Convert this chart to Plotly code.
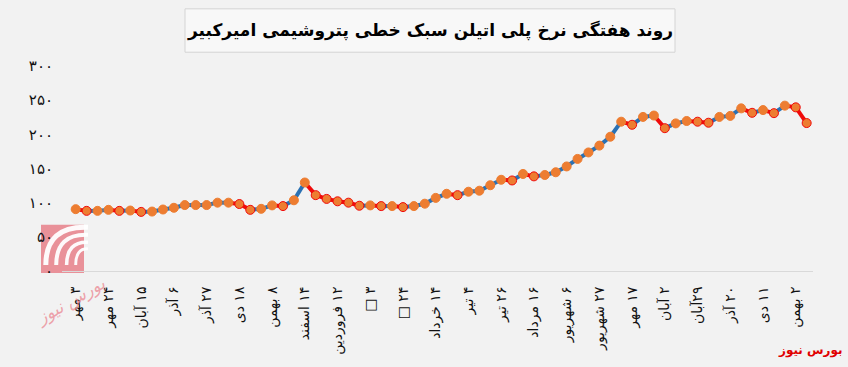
import plotly.graph_objects as go

# ---------------- data ----------------
title_text = "روند هفتگی نرخ پلی اتیلن سبک خطی پتروشیمی امیرکبیر"
source_text = "بورس نیوز"

tick_labels = ["۳ مهر", "۲۴ مهر", "۱۵ آبان", "۶ آذر", "۲۷ آذر", "۱۸ دی", "۸ بهمن",
               "۱۴ اسفند", "۱۲ فروردین", "۳ □", "۲۴ □", "۱۴ خرداد", "۴ تیر", "۲۶ تیر",
               "۱۶ مرداد", "۶ شهریور", "۲۷ شهریور", "۱۷ مهر", "۲ آبان", "۲۹آبان",
               "۲۰ آذر", "۱۱ دی", "۲ بهمن"]
label_every = 3

prices = [90.5, 88, 88, 89.5, 88, 88.5, 86.5, 87, 90, 92.5, 96.5, 96.5, 96.5,
          100, 100, 98, 89.5, 91, 96, 95, 103.5, 129.5, 111, 105.5, 102, 100,
          95.5, 96, 95, 95, 93.5, 95, 98.5, 107, 113, 111, 116, 117.5, 125.5,
          133.5, 132.5, 142, 138.5, 140.5, 144.5, 153, 164, 173.5, 183.5, 196.5,
          218.5, 214, 225.5, 227.5, 209, 216, 219.5, 218.5, 217, 225.5, 227, 238,
          231.5, 235.5, 231, 242, 239.5, 216.5]

y_tick_values = [0, 50, 100, 150, 200, 250, 300]
y_tick_labels = ["۰", "۵۰", "۱۰۰", "۱۵۰", "۲۰۰", "۲۵۰", "۳۰۰"]

# ---------------- styling ----------------
W, H = 848, 367
ML, MR, MT, MB = 62, 35, 66, 93
PW, PH = W - ML - MR, H - MT - MB
BLUE, RED, ORANGE = "#2b71b3", "#f00a0a", "#ed7d31"
FONT = "DejaVu Sans"


def px(x):
    return (x - ML) / PW


def py(y):
    return (H - MB - y) / PH


n = len(prices)
xs = list(range(n))

up_x, up_y, dn_x, dn_y = [], [], [], []
for i in range(n - 1):
    if prices[i + 1] >= prices[i]:
        up_x += [xs[i], xs[i + 1], None]
        up_y += [prices[i], prices[i + 1], None]
    else:
        dn_x += [xs[i], xs[i + 1], None]
        dn_y += [prices[i], prices[i + 1], None]

edge_colors = [ORANGE] + [RED if prices[i] < prices[i - 1] else ORANGE for i in range(1, n)]

fig = go.Figure()
fig.add_trace(go.Scatter(x=up_x, y=up_y, mode="lines", line=dict(color=BLUE, width=4),
                         hoverinfo="skip", showlegend=False))
fig.add_trace(go.Scatter(x=dn_x, y=dn_y, mode="lines", line=dict(color=RED, width=4),
                         hoverinfo="skip", showlegend=False))
fig.add_trace(go.Scatter(x=xs, y=prices, mode="markers",
                         marker=dict(color=ORANGE, size=9,
                                     line=dict(color=edge_colors, width=1)),
                         showlegend=False))

tickvals = [i * label_every for i in range(len(tick_labels))]
ticktext = ["\u202b" + t + "\u200f\u202c" for t in tick_labels]

x0 = -(75.7 - ML) / 10.91
fig.update_xaxes(range=[x0, x0 + PW / 10.91], tickmode="array", tickvals=tickvals,
                 ticktext=ticktext, tickangle=-90, showgrid=False, zeroline=False,
                 showline=True, linecolor="#d9d9d9", linewidth=1, ticks="",
                 ticklabelstandoff=9,
                 tickfont=dict(family=FONT, size=14, color="#111111"))
fig.update_yaxes(range=[0, 300], tickmode="array", tickvals=y_tick_values,
                 ticktext=y_tick_labels, showgrid=False, zeroline=False,
                 showline=False, ticks="", ticklabelstandoff=8,
                 tickfont=dict(family=FONT, size=15, color="#111111"))

shapes = [
    # title box
    dict(type="rect", xref="paper", yref="paper", x0=px(185), x1=px(675), y0=py(52), y1=py(8),
         fillcolor="#f8f8f8", line=dict(color="#d4d4d4", width=1), layer="below"),
    # watermark logo block
    dict(type="rect", xref="paper", yref="paper", x0=px(41), x1=px(84), y0=py(276), y1=py(227),
         fillcolor="rgba(230,120,130,0.8)", line=dict(width=0), layer="below"),
]
for k, (r_out, wdt) in enumerate([(34, 5), (26, 4), (18, 3.5), (11, 3)]):
    cx, cy = 90, 262
    shapes.append(dict(
        type="path", xref="paper", yref="paper", layer="below",
        path=f"M {px(cx - r_out * 1.3)},{py(cy + 6)} Q {px(cx - r_out * 1.3)},{py(cy - r_out)} {px(cx - 2)},{py(cy - r_out * 0.95)}",
        line=dict(color="rgba(255,255,255,0.95)", width=wdt)))

annotations = [
    dict(text="<b>" + title_text + "</b>", xref="paper", yref="paper", x=px(430), y=py(30),
         showarrow=False, font=dict(family=FONT, size=17, color="#000000"),
         xanchor="center", yanchor="middle"),
    dict(text="<b>" + source_text + "</b>", xref="paper", yref="paper", x=px(845), y=py(355),
         showarrow=False, font=dict(family=FONT, size=12, color="#e00000"),
         xanchor="right", yanchor="middle"),
    dict(text="بورس نیوز", xref="paper", yref="paper", x=px(70), y=py(305),
         showarrow=False, textangle=-30,
         font=dict(family=FONT, size=17, color="rgba(235,140,150,0.8)", style="italic"),
         xanchor="center", yanchor="middle"),
]

fig.update_layout(width=W, height=H, margin=dict(l=ML, r=MR, t=MT, b=MB),
                  paper_bgcolor="#f2f2f2", plot_bgcolor="#f2f2f2",
                  shapes=shapes, annotations=annotations, showlegend=False)

fig.write_html("out.html", config={"displayModeBar": False},
               post_script="document.body.style.margin='0';"
                           "document.body.style.background='#f2f2f2';"
                           "document.body.style.overflow='hidden';")
